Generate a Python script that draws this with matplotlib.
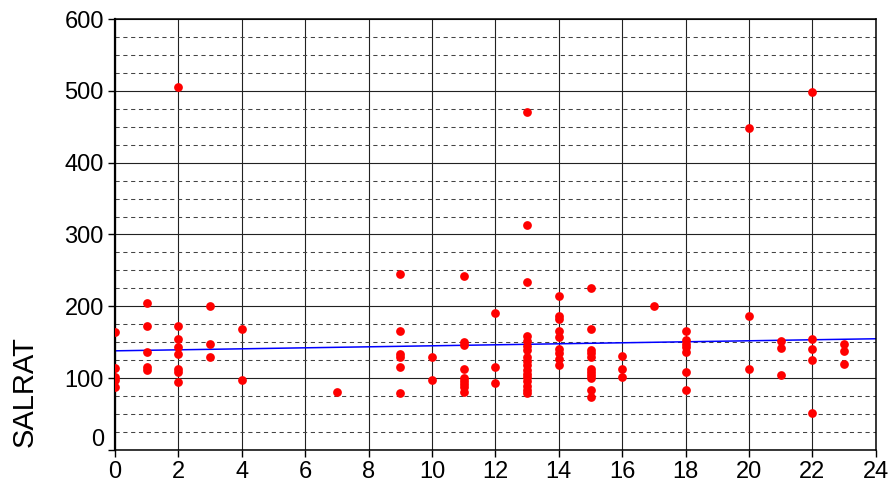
import matplotlib
matplotlib.use("Agg")
import matplotlib.pyplot as plt
import matplotlib.transforms as mtransforms
import numpy as np

plt.rcParams["font.family"] = ["Liberation Sans", "DejaVu Sans"]

grp_x = [0, 1, 2, 3, 4, 7, 9, 10, 11, 12, 13, 14, 15, 16, 17, 18, 20, 21, 22, 23]
grp_vals = [
    [164, 114, 101, 97, 88],
    [204, 172, 136, 116, 111],
    [506, 173, 154, 143, 133, 113, 108, 94],
    [201, 148, 129],
    [169, 97],
    [80],
    [245, 165, 133, 129, 116, 79],
    [129, 97],
    [242, 150, 146, 113, 100, 96, 92, 87, 80],
    [190, 116, 93],
    [471, 313, 234, 158, 151, 145, 139, 130, 124, 118, 112, 106, 101, 96, 89, 84, 79],
    [214, 187, 182, 166, 157, 140, 135, 126, 118],
    [226, 168, 139, 135, 130, 113, 108, 104, 100, 84, 74],
    [131, 113, 101],
    [200],
    [165, 153, 148, 143, 137, 108, 84],
    [448, 186, 113],
    [151, 142, 104],
    [499, 154, 141, 125, 52],
    [148, 138, 119],
]

# fitted line
fit_intercept = 138.0
fit_slope = 0.70

x_ticks = list(range(0, 25, 2))
y_ticks = list(range(0, 601, 100))

xs = np.concatenate([[x] * len(v) for x, v in zip(grp_x, grp_vals)])
ys = np.concatenate(grp_vals)

fig = plt.figure(figsize=(8.91, 4.88), dpi=100)
ax = fig.add_axes([0.129, 0.078, 0.854, 0.883])

ax.set_xlim(0, 24)
ax.set_ylim(0, 600)
ax.set_xticks(x_ticks)
ax.set_yticks(y_ticks)
ax.set_yticks(np.arange(0, 601, 25), minor=True)

ax.grid(which="major", axis="both", color="#222222", lw=0.8, zorder=0)
ax.grid(which="minor", axis="y", color="#444444", lw=0.75,
        linestyle=(0, (4, 3.5)), zorder=0)
ax.set_axisbelow(True)

fx = np.array([0, 24])
ax.plot(fx, fit_intercept + fit_slope * fx, color="#0000ff", lw=1.1, zorder=2)
ax.plot(xs, ys, "o", color="#ff0000", ms=6.3, mec="none", zorder=3)

for s in ax.spines.values():
    s.set_color("black")
    s.set_linewidth(1.1)
ax.spines["left"].set_linewidth(1.6)

ax.tick_params(which="major", direction="out", length=5, width=1,
               labelsize=17, pad=3, color="black")
ax.tick_params(which="minor", length=0)

# the "0" label sits a bit above its tick in the reference
lab0 = ax.get_yticklabels()[0]
lab0.set_transform(lab0.get_transform() +
                   mtransforms.ScaledTranslation(0, 0.12, fig.dpi_scale_trans))

fig.text(0.028, 1 - 392 / 488, "SALRAT", rotation=90, ha="center",
         va="center", fontsize=21)

fig.savefig("out.png", dpi=100)
